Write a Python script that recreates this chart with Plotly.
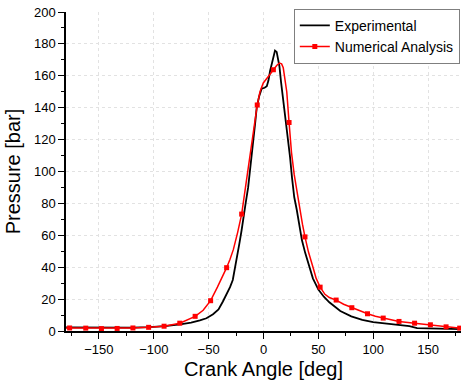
import plotly.graph_objects as go

# Experimental (black) curve
exp_x = [-180, -160, -140, -120, -104, -90, -76, -66, -58, -52, -46, -41, -37, -33, -30.5, -28, -26, -24, -22, -20,
         -18.4, -16.3, -14, -12.3, -10.5, -9.3, -7.5, -6.2, -4, -1.6, 1, 3, 4.5, 6, 8, 9, 10.5, 12, 13, 14.5, 16,
         18, 21, 24.2, 26, 28, 30.3, 33.3, 35, 38, 41, 45, 50, 55, 60, 65, 70, 80, 90, 100, 110, 125, 133, 140,
         155, 180]
exp_y = [2.3, 2.1, 2.0, 2.1, 2.4, 3.0, 4.1, 5.2, 6.6, 8.0, 10.5, 13.5, 18.5, 23.5, 27.5, 32, 39, 46, 54.8, 63,
         71.6, 80, 90, 100, 110, 120, 131, 140, 147, 152, 152.5, 153.5, 157, 163, 169, 172, 175.8, 175, 171, 166,
         156, 145, 128, 109, 96, 84, 76, 62, 57, 49, 42, 33, 26, 21.5, 18, 15, 12.5, 9.2, 7.0, 5.6, 4.8, 4.0, 3.0,
         1.8, 1.5, 1.2]

# Numerical analysis (red) curve
num_x = [-180, -176.7, -162, -147.7, -133.4, -119, -104.7, -90.6, -76.3, -62.3, -55, -48.2, -42, -38, -33.6,
         -30.5, -27.5, -23.5, -19.9, -15, -10, -5.7, -3.2, -0.2, 4.4, 9, 12, 14.5, 16.5, 18, 19.5, 21.2, 23.3,
         25.5, 28, 30.5, 33.3, 35.5, 37.8, 41, 45.5, 48, 51.6, 56, 60, 66.2, 73, 80.5, 87.5, 94.8, 102, 109.1,
         123.5, 137.7, 152.1, 166.4, 178.8, 180]
num_y = [1.9, 1.9, 1.8, 1.5, 1.6, 1.9, 2.3, 3.0, 4.9, 9.2, 13, 19, 27.5, 33, 39.7,
         45, 51, 62, 73.3, 97, 121, 141.7, 150, 155.5, 159.6, 163.8, 166.5, 168, 167.5, 165, 158, 150, 130.7,
         112, 98, 87, 76, 67, 59, 49.5, 39, 33, 27.5, 23, 21, 19.4, 16.8, 14.6, 12.6, 10.8, 9.3, 8.1,
         6.0, 4.9, 3.9, 2.6, 1.8, 1.7]

# Marker positions on the red curve
mark_x = [-176.7, -162, -147.7, -133.4, -119, -104.7, -90.6, -76.3, -62.3, -48.2, -33.6, -19.9, -5.7, 9, 23.3,
          37.8, 51.6, 66.2, 80.5, 94.8, 109.1, 123.5, 137.7, 152.1, 166.4, 178.8]
mark_y = [1.9, 1.8, 1.5, 1.6, 1.9, 2.3, 3.0, 4.9, 9.2, 19, 39.7, 73.3, 141.7, 163.8, 130.7,
          59, 27.5, 19.4, 14.6, 10.8, 8.1, 6.0, 4.9, 3.9, 2.6, 1.8]

x_ticks = [-150, -100, -50, 0, 50, 100, 150]
y_ticks = [0, 20, 40, 60, 80, 100, 120, 140, 160, 180, 200]

RED = "#ff0000"
FONT = "Liberation Sans, Arial, sans-serif"

fig = go.Figure()
fig.add_trace(go.Scatter(x=exp_x, y=exp_y, mode="lines", name="Experimental",
                         line=dict(color="black", width=1.8)))
fig.add_trace(go.Scatter(x=num_x, y=num_y, mode="lines", showlegend=False,
                         line=dict(color=RED, width=1.5), hoverinfo="skip"))
fig.add_trace(go.Scatter(x=mark_x, y=mark_y, mode="markers", showlegend=False,
                         marker=dict(color=RED, symbol="square", size=5)))
fig.add_trace(go.Scatter(x=[None], y=[None], mode="lines+markers", name="Numerical Analysis",
                         line=dict(color=RED, width=1.5),
                         marker=dict(color=RED, symbol="square", size=5)))

grid = dict(showgrid=True, gridcolor="#e2e2e2", gridwidth=1, griddash="dot", zeroline=False)

fig.update_xaxes(range=[-180, 180], tickvals=x_ticks, ticktext=[("\u2212" + str(-v)) if v < 0 else str(v) for v in x_ticks],
                 ticks="outside", ticklen=6, tickwidth=1.3, tickcolor="black",
                 showline=True, linecolor="black", linewidth=1.5,
                 minor=dict(tickvals=[-175, -125, -75, -25, 25, 75, 125, 175], ticks="outside", ticklen=3,
                            tickcolor="black", tickwidth=1.3, showgrid=False),
                 tickfont=dict(size=13, color="black", family=FONT),
                 title=dict(text="Crank Angle [deg]", font=dict(size=20, color="black", family=FONT), standoff=6),
                 **grid)
fig.update_yaxes(range=[0, 200], tickvals=y_ticks,
                 ticks="outside", ticklen=6, tickwidth=1.3, tickcolor="black",
                 showline=True, linecolor="black", linewidth=1.5,
                 minor=dict(tickvals=[10, 30, 50, 70, 90, 110, 130, 150, 170, 190], ticks="outside", ticklen=3,
                            tickcolor="black", tickwidth=1.3, showgrid=False),
                 tickfont=dict(size=13, color="black", family=FONT),
                 title=dict(text="Pressure [bar]", font=dict(size=20, color="black", family=FONT), standoff=8),
                 **grid)

fig.update_layout(
    width=461, height=386,
    margin=dict(l=66, r=0, t=12, b=55),
    paper_bgcolor="white", plot_bgcolor="white",
    font=dict(family=FONT, color="black"),
    legend=dict(x=0.997, y=1.01, xanchor="right", yanchor="top",
                bgcolor="white", bordercolor="#7f7f7f", borderwidth=1,
                font=dict(size=14, color="black", family=FONT),
                tracegroupgap=0, itemwidth=30),
)

fig.write_html("out.html")
